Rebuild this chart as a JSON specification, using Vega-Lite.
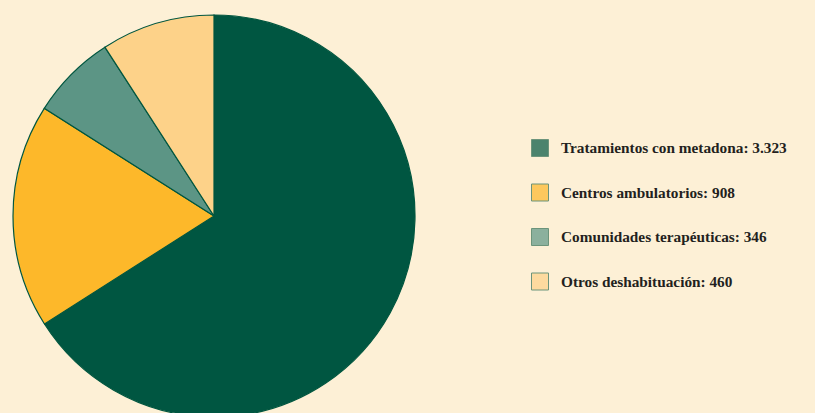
{
  "$schema": "https://vega.github.io/schema/vega-lite/v6.json",
  "background": "#fdf0d6",
  "padding": {"left": 10, "top": 12, "right": 60, "bottom": 0},
  "width": 402,
  "height": 402,
  "data": {"values": [
    {"label": "Tratamientos con metadona: 3.323", "value": 3323, "o": 1},
    {"label": "Centros ambulatorios: 908", "value": 908, "o": 2},
    {"label": "Comunidades terapéuticas: 346", "value": 346, "o": 3},
    {"label": "Otros deshabituación: 460", "value": 460, "o": 4}
  ]},
  "mark": {"type": "arc", "stroke": "#00563f", "strokeWidth": 1.2},
  "encoding": {
    "theta": {"field": "value", "type": "quantitative", "stack": true},
    "order": {"field": "o", "type": "quantitative"},
    "color": {
      "field": "label", "type": "nominal",
      "sort": ["Tratamientos con metadona: 3.323", "Centros ambulatorios: 908", "Comunidades terapéuticas: 346", "Otros deshabituación: 460"],
      "scale": {"range": ["#005641", "#fdb82a", "#5c9585", "#fdd289"]},
      "legend": {
        "title": null,
        "orient": "none",
        "legendX": 518,
        "legendY": 124,
        "symbolType": "square",
        "symbolSize": 289,
        "symbolOpacity": 0.7,
        "symbolStrokeColor": "#2f6e55",
        "symbolStrokeWidth": 1,
        "rowPadding": 22.5,
        "labelFont": "Liberation Serif",
        "labelFontWeight": "bold",
        "labelFontSize": 15.3,
        "labelColor": "#231f20",
        "labelOffset": 12,
        "labelLimit": 400
      }
    }
  },
  "config": {"view": {"stroke": null}}
}
